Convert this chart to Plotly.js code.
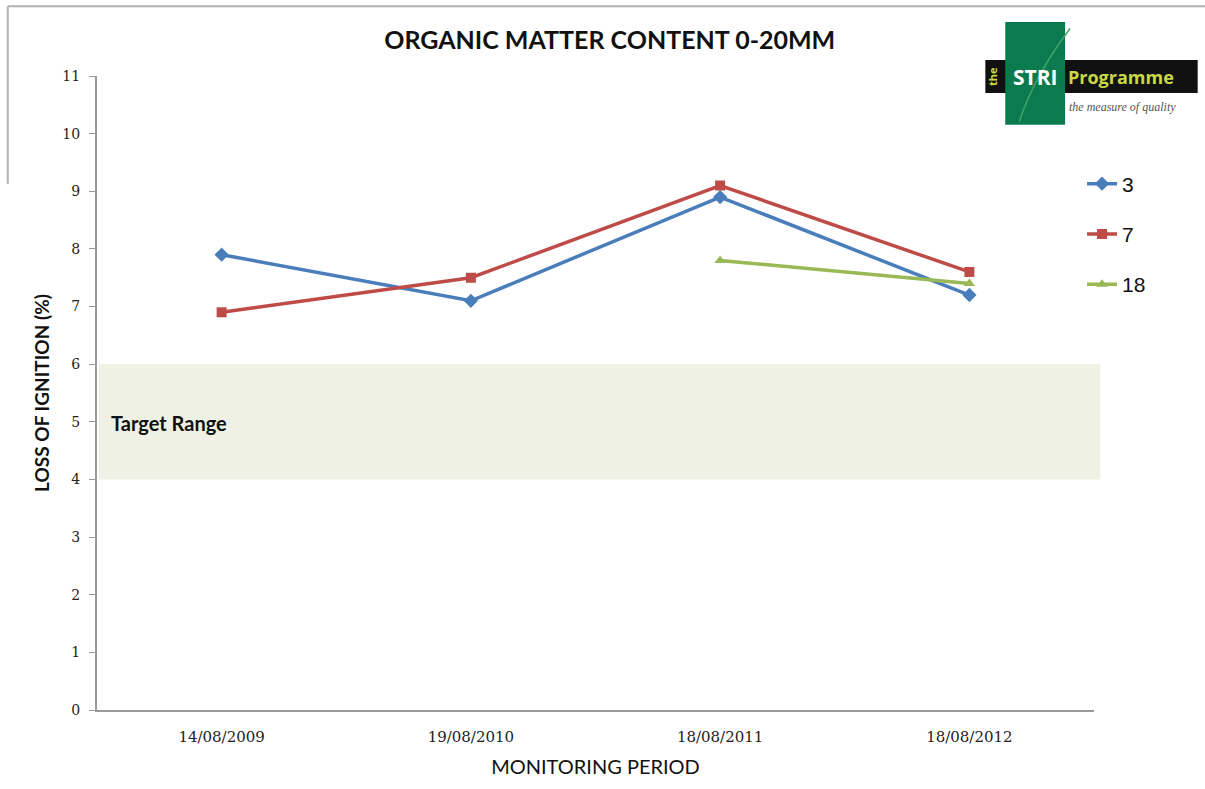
<!DOCTYPE html>
<html>
<head>
<meta charset="utf-8">
<script src="https://cdn.plot.ly/plotly-3.0.1.min.js"></script>
<style>html,body{margin:0;padding:0;background:#fff;}#chart{width:1205px;height:789px;}</style>
</head>
<body>
<div id="chart"></div>
<script>
const categories = ["14/08/2009", "19/08/2010", "18/08/2011", "18/08/2012"];
const series3 = [7.9, 7.1, 8.9, 7.2];
const series7 = [6.9, 7.5, 9.1, 7.6];
const series18 = [null, null, 7.8, 7.4];
const seriesNames = ["3", "7", "18"];
const targetRange = [4, 6];
const yTicks = [0, 1, 2, 3, 4, 5, 6, 7, 8, 9, 10, 11];

const traces = [
  {x: categories, y: series3, name: seriesNames[0], legendgroup: "a", type: "scatter", mode: "lines+markers",
   line: {color: "#4a7ebb", width: 3.5}, marker: {symbol: "diamond", size: 11, color: "#4a7ebb"}},
  {x: categories, y: series7, name: seriesNames[1], legendgroup: "b", type: "scatter", mode: "lines+markers",
   line: {color: "#be4b48", width: 3.5}, marker: {symbol: "square", size: 10, color: "#be4b48"}},
  {x: categories, y: series18, name: seriesNames[2], legendgroup: "c", type: "scatter", mode: "lines+markers",
   line: {color: "#98b954", width: 3.5}, marker: {symbol: "triangle-up", size: 10, color: "#98b954"}}
];

const layout = {
  width: 1205, height: 789,
  margin: {l: 97, r: 111, t: 76, b: 79},
  paper_bgcolor: "#fff", plot_bgcolor: "rgba(0,0,0,0)",
  title: {text: "<b>ORGANIC MATTER CONTENT 0-20MM</b>", x: 0.506, xanchor: "center", y: 0.949, yanchor: "middle",
          font: {family: "Lato, 'Open Sans', sans-serif", size: 25, color: "#111"}},
  xaxis: {type: "category", range: [-0.5, 3.5], showline: true, linecolor: "#9a9a9a", linewidth: 2,
          showgrid: false, zeroline: false, ticks: "", ticklabelstandoff: 12,
          tickfont: {family: "'DejaVu Serif', serif", size: 15, color: "#222"},
          title: {text: "MONITORING PERIOD", font: {family: "Lato, sans-serif", size: 20, color: "#111"}, standoff: 15}},
  yaxis: {range: [0, 11], tickvals: yTicks, showline: true, linecolor: "#9a9a9a", linewidth: 2,
          showgrid: false, zeroline: false, ticks: "outside", ticklen: 6, tickcolor: "#9a9a9a", ticklabelstandoff: 6,
          tickfont: {family: "'DejaVu Serif', serif", size: 14, color: "#222"},
          title: {text: "<b>LOSS OF IGNITION (%)</b>", font: {family: "Lato, sans-serif", size: 19, color: "#111"}, standoff: 8}},
  showlegend: true,
  legend: {x: 0.988, xanchor: "left", y: 0.862, yanchor: "top", bgcolor: "rgba(0,0,0,0)",
           font: {family: "'Liberation Sans', sans-serif", size: 21, color: "#111"}, tracegroupgap: 20, itemwidth: 30},
  shapes: [
    {type: "rect", xref: "paper", yref: "y", x0: 0.002, x1: 1.0065, y0: targetRange[0], y1: targetRange[1],
     fillcolor: "#eef1e3", line: {width: 0}, layer: "below"},
    {type: "line", xref: "paper", yref: "paper", x0: -0.0895, x1: 1.12, y0: 1.11, y1: 1.11, line: {color: "#b0b0b0", width: 2}},
    {type: "line", xref: "paper", yref: "paper", x0: -0.0895, x1: -0.0895, y0: 1.11, y1: 0.83, line: {color: "#b0b0b0", width: 2}},
    {type: "rect", xref: "paper", yref: "paper", x0: 0.891, x1: 1.104, y0: 1.0252, y1: 0.9732, fillcolor: "#111", line: {width: 0}},
    {type: "rect", xref: "paper", yref: "paper", x0: 0.911, x1: 0.971, y0: 1.085, y1: 0.923, fillcolor: "#0b7a4f", line: {width: 0}},
    {type: "path", xref: "paper", yref: "paper", path: "M 0.925,0.928 Q 0.94,1.0 0.976,1.075", line: {color: "#3fa36a", width: 1.5}}
  ],
  annotations: [
    {text: "<b>Target Range</b>", xref: "paper", yref: "y", x: 0.012, y: 4.98, xanchor: "left", yanchor: "middle", showarrow: false,
     font: {family: "Lato, sans-serif", size: 20, color: "#111"}},
    {text: "<b>STRI</b>", xref: "paper", yref: "paper", x: 0.941, y: 0.999, xanchor: "center", yanchor: "middle", showarrow: false,
     font: {family: "'Open Sans', sans-serif", size: 21, color: "#ffffff"}},
    {text: "<b>Programme</b>", xref: "paper", yref: "paper", x: 0.972, y: 0.999, xanchor: "left", yanchor: "middle", showarrow: false,
     font: {family: "'Open Sans', sans-serif", size: 18, color: "#c9d846"}},
    {text: "<b>the</b>", xref: "paper", yref: "paper", x: 0.898, y: 0.999, xanchor: "center", yanchor: "middle", showarrow: false, textangle: -90,
     font: {family: "'Open Sans', sans-serif", size: 11, color: "#c9d846"}},
    {text: "<i>the measure of quality</i>", xref: "paper", yref: "paper", x: 0.973, y: 0.951, xanchor: "left", yanchor: "middle", showarrow: false,
     font: {family: "'Liberation Serif', serif", size: 12, color: "#555"}}
  ]
};

Plotly.newPlot("chart", traces, layout, {displayModeBar: false, staticPlot: true});
</script>
</body>
</html>
